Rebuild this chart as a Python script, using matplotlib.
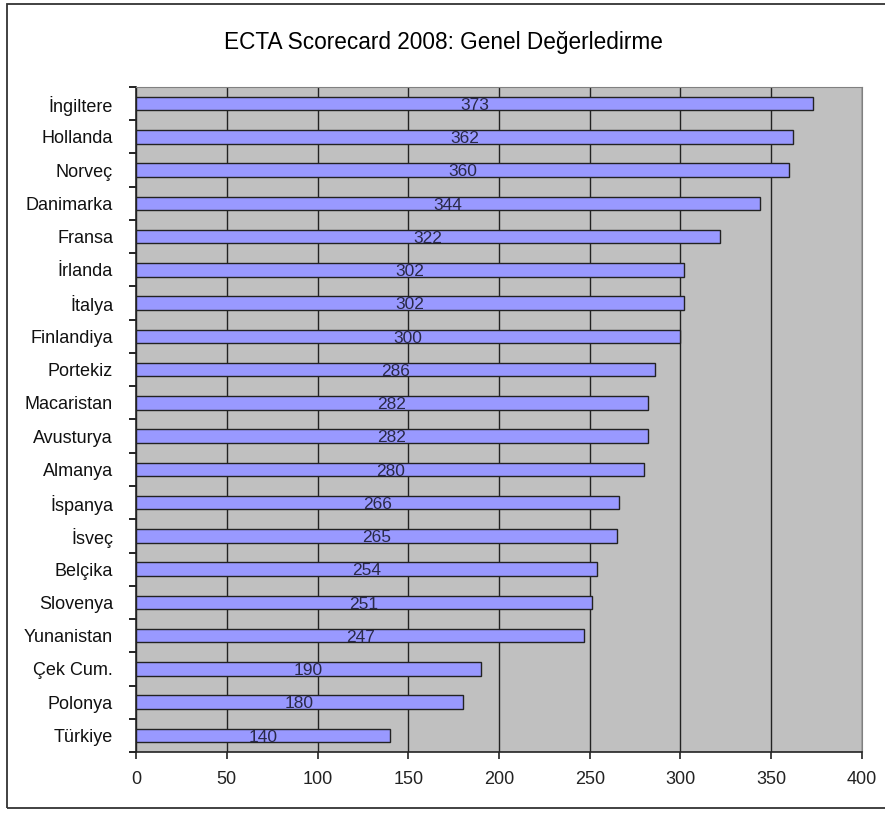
import matplotlib
matplotlib.use("Agg")
import matplotlib.pyplot as plt
from matplotlib.patches import Rectangle

plt.rcParams["font.family"] = ["Liberation Sans", "DejaVu Sans"]

countries = ["İngiltere", "Hollanda", "Norveç", "Danimarka", "Fransa", "İrlanda",
             "İtalya", "Finlandiya", "Portekiz", "Macaristan", "Avusturya", "Almanya",
             "İspanya", "İsveç", "Belçika", "Slovenya", "Yunanistan", "Çek Cum.",
             "Polonya", "Türkiye"]
scores = [373, 362, 360, 344, 322, 302, 302, 300, 286, 282, 282, 280,
          266, 265, 254, 251, 247, 190, 180, 140]
xticks = [0, 50, 100, 150, 200, 250, 300, 350, 400]

W, H = 885, 813
fig = plt.figure(figsize=(W / 100, H / 100), dpi=100)
# outer frame, open on the right like the original screenshot
fig.patches.append(Rectangle((7 / W, 1 - 808 / H), 890 / W, 804 / H,
                             transform=fig.transFigure, fill=False,
                             edgecolor="#333333", lw=1.3))

ax = fig.add_axes([136 / W, 1 - 752 / H, (862 - 136) / W, (752 - 87) / H])
ax.set_facecolor("#c0c0c0")
n = len(countries)
ypos = list(range(n))
ax.barh(ypos, scores, height=0.4, color="#9999ff", edgecolor="#222222",
        lw=1.0, zorder=3)
for y, v in zip(ypos, scores):
    ax.text(v / 2, y + 0.05, str(v), ha="center", va="center", fontsize=12.5,
            color="#2a2a48", zorder=4)

ax.set_xlim(0, 400)
ax.set_ylim(n - 0.5, -0.5)
ax.set_xticks(xticks)
ax.set_yticks([i - 0.5 for i in range(n + 1)], minor=False)
ax.set_yticklabels([])
ax.set_yticks(ypos, minor=True)
ax.set_yticklabels(countries, minor=True)
ax.tick_params(axis="y", which="minor", length=0, pad=16.5, labelsize=13,
               labelcolor="#111111")
ax.tick_params(axis="y", which="major", length=5, direction="out", width=1.2)
ax.tick_params(axis="x", length=5, direction="out", width=1.2, labelsize=13,
               pad=9, colors="#222222")
ax.grid(axis="x", color="#222222", lw=1.0, zorder=1)
for s in ["top", "right"]:
    ax.spines[s].set_color("#808080")
for s in ["left", "bottom"]:
    ax.spines[s].set_color("#222222")
    ax.spines[s].set_linewidth(1.2)

fig.text(443 / W, 1 - 42 / H, "ECTA Scorecard 2008: Genel Değerledirme",
         ha="center", va="center", fontsize=16.3)

fig.savefig("out.png", dpi=100)
